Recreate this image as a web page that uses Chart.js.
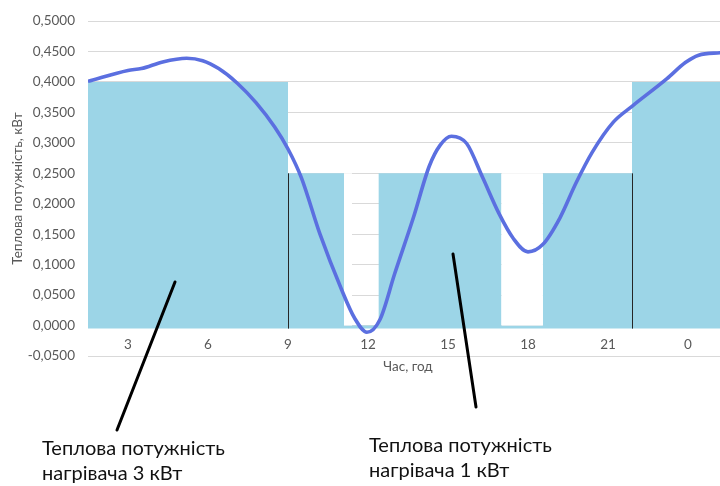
<!DOCTYPE html>
<html>
<head>
<meta charset="utf-8">
<script src="https://cdn.jsdelivr.net/npm/chart.js@4/dist/chart.umd.min.js"></script>
<style>
  html, body { margin: 0; padding: 0; width: 720px; height: 486px; overflow: hidden; background: #fff; }
  canvas { display: block; }
</style>
</head>
<body>
<canvas id="c" width="760" height="486"></canvas>
<script>
// Hour ticks on the time axis (hour 24 is shown as 0)
const hourTicks  = [3, 6, 9, 12, 15, 18, 21, 24];
const hourLabels = ['3', '6', '9', '12', '15', '18', '21', '0'];

// Heater power blocks: each value holds from its start hour to the next one, kW
const heaterStart = [1.5, 9, 11.1, 12.4, 17.0, 18.56, 21.9, 25.5];
const heaterPower = [0.4, 0.25, 0, 0.25, 0, 0.25, 0.4, 0.4];

// Blank slots inside the 1 kW block
const pauseFrom  = [11.1, 17.0];
const pauseTo    = [11.4, 18.56];
const pauseLevel = [0.25, 0.25];

// Hours where the heater mode switches
const modeSwitch = [9, 21.9];
const switchTop  = [0.25, 0.25];

// Required heat power over the day, kW
const demandHour  = [1.5, 3.0, 3.5, 4.3, 5.2, 5.8, 6.4, 7.1, 7.8, 8.5, 9.0, 9.5, 10.2, 11.0, 11.5, 11.96,
                     12.45, 13.0, 13.7, 14.3, 14.7, 15.13, 15.7, 16.3, 16.9, 17.45, 18.0, 18.55, 19.2,
                     19.8, 20.4, 21.2, 21.9, 23.2, 23.9, 24.4, 25.2, 25.5];
const demandPower = [0.401, 0.419, 0.422, 0.433, 0.439, 0.435, 0.422, 0.398, 0.366, 0.326, 0.290, 0.243, 0.150, 0.060, 0.012, -0.011,
                     0.010, 0.085, 0.177, 0.262, 0.296, 0.311, 0.299, 0.243, 0.185, 0.143, 0.121, 0.133, 0.177,
                     0.234, 0.284, 0.334, 0.360, 0.405, 0.432, 0.444, 0.448, 0.449];

const FONT = "Lato, 'Open Sans', sans-serif";
const GREY = '#595959';

const pauseSets = pauseFrom.map((from, i) => ({
  type: 'line',
  data: [{x: from, y: pauseLevel[i]}, {x: pauseTo[i], y: pauseLevel[i]}],
  borderWidth: 0,
  pointRadius: 0,
  backgroundColor: '#ffffff',
  fill: {value: 0},
  order: 1
}));

const overlay = {
  id: 'overlay',
  afterDatasetsDraw(chart) {
    const {ctx, scales: {x, y}} = chart;
    ctx.save();
    ctx.strokeStyle = '#262626';
    ctx.lineWidth = 1;
    modeSwitch.forEach((h, i) => {
      const px = Math.round(x.getPixelForValue(h)) + 0.5;
      ctx.beginPath();
      ctx.moveTo(px, y.getPixelForValue(switchTop[i]));
      ctx.lineTo(px, y.getPixelForValue(-0.005));
      ctx.stroke();
    });
    ctx.restore();
  },
  afterDraw(chart) {
    const {ctx, chartArea} = chart;
    ctx.save();
    // axis title under the hour labels
    ctx.fillStyle = GREY;
    ctx.font = "13.5px " + FONT;
    ctx.textAlign = 'center';
    ctx.textBaseline = 'middle';
    ctx.fillText('Час, год', (chartArea.left + chartArea.right) / 2, 367);

    // callout lines
    ctx.strokeStyle = '#000';
    ctx.lineWidth = 3;
    ctx.lineCap = 'round';
    ctx.beginPath();
    ctx.moveTo(175, 282); ctx.lineTo(117, 430);
    ctx.moveTo(453, 254); ctx.lineTo(476, 407);
    ctx.stroke();

    // callout texts
    ctx.fillStyle = '#111';
    ctx.textAlign = 'left';
    ctx.textBaseline = 'alphabetic';
    ctx.font = "100px " + FONT;
    const w = ctx.measureText('Теплова потужність').width;
    const size = 100 * 183 / w;
    ctx.font = size.toFixed(1) + "px " + FONT;
    ctx.fillText('Теплова потужність', 42, 455);
    ctx.fillText('нагрівача 3 кВт', 42, 480);
    ctx.fillText('Теплова потужність', 369, 452);
    ctx.fillText('нагрівача 1 кВт', 369, 477);
    ctx.restore();
  }
};

new Chart(document.getElementById('c'), {
  data: {
    datasets: [
      {
        type: 'line',
        label: 'Теплова потужність',
        data: demandHour.map((h, i) => ({x: h, y: demandPower[i]})),
        borderColor: '#5b6fe0',
        borderWidth: 3.6,
        pointRadius: 0,
        cubicInterpolationMode: 'monotone',
        fill: false,
        order: 0
      },
      ...pauseSets,
      {
        type: 'line',
        label: 'Нагрівач',
        data: heaterStart.map((h, i) => ({x: h, y: heaterPower[i]})),
        stepped: 'before',
        borderWidth: 0,
        pointRadius: 0,
        backgroundColor: '#9cd5e7',
        fill: {value: -0.005},
        order: 2
      }
    ]
  },
  plugins: [overlay],
  options: {
    responsive: false,
    animation: false,
    layout: { padding: { top: 18, right: 32, bottom: 130, left: 0 } },
    plugins: { legend: { display: false }, tooltip: { enabled: false } },
    scales: {
      x: {
        type: 'linear',
        position: { y: 0 },
        min: 1.5,
        max: 25.5,
        afterBuildTicks(s) { s.ticks = hourTicks.map(v => ({value: v})); },
        ticks: {
          callback: v => hourLabels[hourTicks.indexOf(v)],
          color: GREY,
          font: { family: FONT, size: 13.5 },
          padding: 11,
          maxRotation: 0,
          autoSkip: false
        },
        grid: { display: false, drawTicks: false },
        border: { display: false }
      },
      y: {
        min: -0.05,
        max: 0.5,
        afterFit(s) { s.width = 88; },
        ticks: {
          stepSize: 0.05,
          callback: v => v.toFixed(4).replace('.', ','),
          color: GREY,
          font: { family: FONT, size: 13.5 },
          padding: 13
        },
        grid: { color: '#d9d9d9', drawTicks: false },
        border: { display: false },
        title: {
          display: true,
          text: 'Теплова потужність, кВт',
          color: GREY,
          font: { family: FONT, size: 13.5 },
          padding: { top: 10, bottom: 0 }
        }
      }
    }
  }
});
</script>
</body>
</html>
